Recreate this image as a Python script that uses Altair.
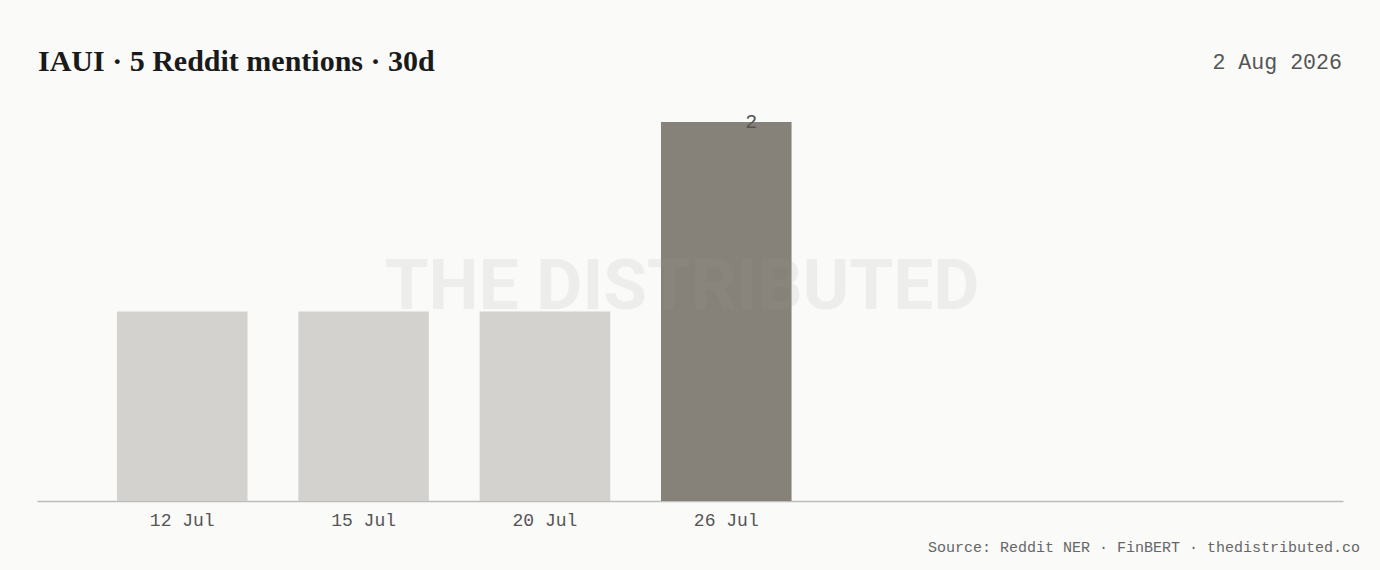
import altair as alt
import pandas as pd
import jinja2

# ---- data ----
dates = ["12 Jul", "15 Jul", "20 Jul", "26 Jul"]
mentions = [1, 1, 1, 2]
group = ["past", "past", "past", "latest"]
empty_slots = [" ", "  ", "   "]  # unused band slots to the right

title_text = "IAUI · 5 Reddit mentions · 30d"
date_text = "2 Aug 2026"
source_text = "Source: Reddit NER · FinBERT · thedistributed.co"
watermark_text = "THE DISTRIBUTED"

df = pd.DataFrame({"date": dates, "mentions": mentions, "group": group})

W, H = 1306, 379
MONO = "Liberation Mono"
BG = "#fafaf8"

x = alt.X(
    "date:N",
    scale=alt.Scale(domain=dates + empty_slots, paddingInner=0.28, paddingOuter=0.241, align=0.915),
    axis=alt.Axis(
        title=None, labelAngle=0, ticks=False, grid=False,
        domainColor="#bdbdbd", domainWidth=1.5,
        labelFont=MONO, labelFontSize=18, labelColor="#555555", labelPadding=10,
    ),
)
y = alt.Y("mentions:Q", scale=alt.Scale(domain=[0, 2], nice=False, zero=True), axis=None)

base = alt.Chart(df)

bars = base.mark_bar().encode(
    x=x,
    y=y,
    color=alt.Color(
        "group:N",
        scale=alt.Scale(domain=["past", "latest"], range=["#d3d2ce", "#878279"]),
        legend=None,
    ),
)

value_label = base.transform_filter(alt.datum.group == "latest").mark_text(
    dx=25, baseline="middle", align="center", font=MONO, fontSize=20, color="#555555"
).encode(x=x, y=y, text="mentions:Q")

wm = alt.Chart(pd.DataFrame({"t": [watermark_text]})).mark_text(
    font="Roboto", fontWeight="bold", fontSize=71, color="#9a9a9a", opacity=0.13,
    align="center", baseline="middle",
).encode(text="t:N", x=alt.value(645), y=alt.value(166))

title = alt.Chart(pd.DataFrame({"t": [title_text]})).mark_text(
    font="Liberation Serif", fontWeight="bold", fontSize=30, color="#1a1a1a",
    align="left", baseline="alphabetic",
).encode(text="t:N", x=alt.value(1), y=alt.value(-51))

date_lbl = alt.Chart(pd.DataFrame({"t": [date_text]})).mark_text(
    font=MONO, fontSize=21.6, color="#555555", align="right", baseline="middle",
).encode(text="t:N", x=alt.value(1305), y=alt.value(-59))

footer = alt.Chart(pd.DataFrame({"t": [source_text]})).mark_text(
    font=MONO, fontSize=15, color="#666666", align="right", baseline="middle",
).encode(text="t:N", x=alt.value(1323), y=alt.value(H + 46))

chart = alt.layer(bars, wm, value_label, title, date_lbl, footer).properties(
    width=W, height=H,
    autosize=alt.AutoSizeParams(type="none"),
    padding={"left": 29, "top": 114, "right": 29, "bottom": 61},
    background=BG,
).configure_view(stroke=None)

page_template = jinja2.Template(
    """<!DOCTYPE html>
<html>
<head>
  <meta charset="utf-8">
  <style>
    body { margin: 8px; background: """ + BG + """; }
    #{{ output_div }}.vega-embed { width: 100%; display: flex; }
  </style>
  <script type="text/javascript" src="{{ base_url }}/vega@{{ vega_version }}"></script>
  <script type="text/javascript" src="{{ base_url }}/vega-lite@{{ vegalite_version }}"></script>
  <script type="text/javascript" src="{{ base_url }}/vega-embed@{{ vegaembed_version }}"></script>
</head>
<body>
  <div id="{{ output_div }}"></div>
  <script>
    (function(vegaEmbed) {
      var spec = {{ spec }};
      var embedOpt = {{ embed_options }};
      vegaEmbed("#{{ output_div }}", spec, embedOpt).catch(console.error);
    })(vegaEmbed);
  </script>
</body>
</html>
"""
)

chart.save(
    "out.html",
    embed_options={"renderer": "svg", "actions": False},
    template=page_template,
)
